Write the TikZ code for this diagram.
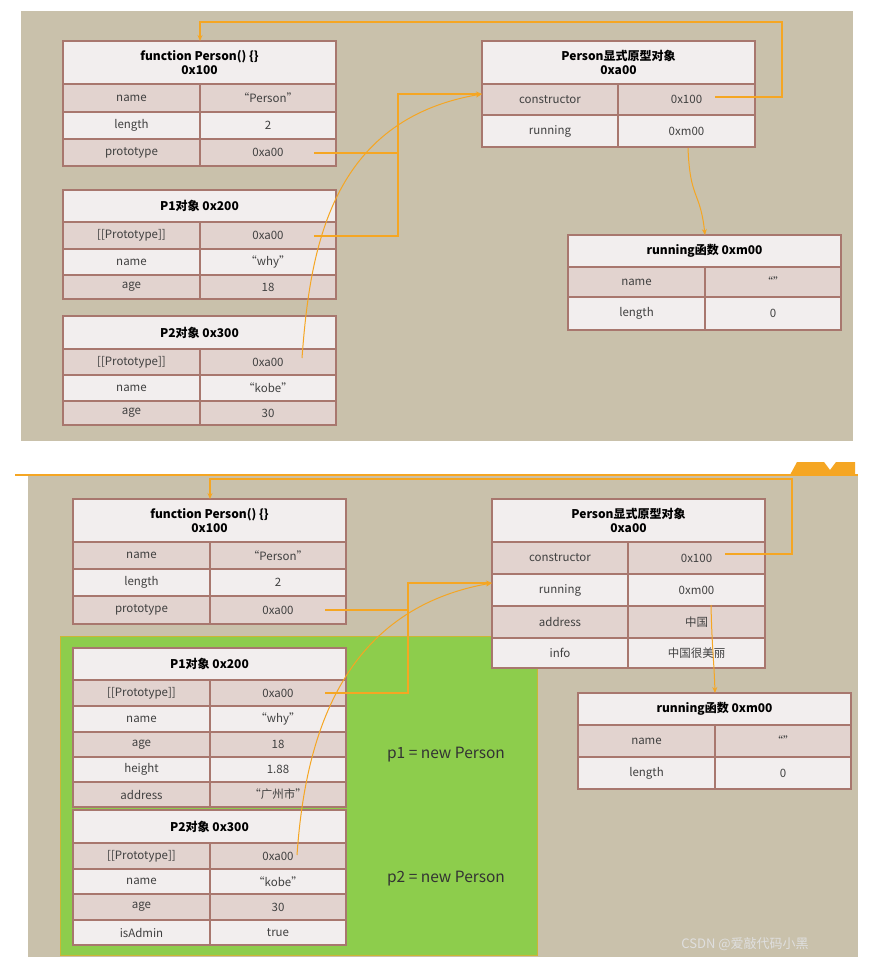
\documentclass[tikz,border=0pt]{standalone}
\usepackage{fontspec}
\setmainfont{Noto Sans CJK SC}
\usetikzlibrary{arrows.meta}
\definecolor{bg}{HTML}{C9C1AB}
\definecolor{bd}{HTML}{A8776E}
\definecolor{sh}{HTML}{E2D3CF}
\definecolor{lt}{HTML}{F2EEEE}
\definecolor{og}{HTML}{F5A623}
\definecolor{gr}{HTML}{8DCD4C}
\tikzset{
 cell/.style={draw=bd,line width=1.2pt},
 ht/.style={font=\bfseries\fontsize{12}{14}\selectfont,align=center,inner sep=0},
 tx/.style={font=\fontsize{11.5}{13}\selectfont,text=black!75,inner sep=0},
 big/.style={font=\fontsize{15.5}{18}\selectfont,text=black!80,inner sep=0},
 ln/.style={draw=og,line width=1.7pt},
 cv/.style={draw=og,line width=1pt},
 tip/.style={-{Stealth[length=6pt,width=5pt]}}
}
\newcommand\hdr[5]{\filldraw[cell,fill=lt] (#1,#3) rectangle (#2,#4);
 \node[ht] at ({(#1+#2)/2},{(#3+#4)/2}) {#5};}
\newcommand\rw[8]{\filldraw[cell,fill=#6] (#1,#4) rectangle (#3,#5);
 \draw[cell] (#2,#4) -- (#2,#5);
 \node[tx] at ({(#1+#2)/2},{(#4+#5)/2}) {#7};
 \node[tx] at ({(#2+#3)/2},{(#4+#5)/2}) {#8};}
\begin{document}
\begin{tikzpicture}[x=1pt,y=-1pt]
\useasboundingbox (0,0) rectangle (868,963);
\fill[white] (0,0) rectangle (868,963);
% ===== top panel
\fill[bg] (21,11) rectangle (853,441);
\hdr{63}{336}{41}{84}{function Person() \{\}\\0x100}
\rw{63}{200}{336}{84}{112}{sh}{name}{“Person”}
\rw{63}{200}{336}{112}{139}{lt}{length}{2}
\rw{63}{200}{336}{139}{166}{sh}{prototype}{0xa00}
\hdr{482}{755}{41}{84}{Person显式原型对象\\0xa00}
\rw{482}{618}{755}{84}{115}{sh}{constructor}{0x100}
\rw{482}{618}{755}{115}{147}{lt}{running}{0xm00}
\hdr{63}{336}{190}{222}{P1对象 0x200}
\rw{63}{200}{336}{222}{249}{sh}{[[Prototype]]}{0xa00}
\rw{63}{200}{336}{249}{275}{lt}{name}{“why”}
\rw{63}{200}{336}{275}{299}{sh}{age}{18}
\hdr{63}{336}{316}{349}{P2对象 0x300}
\rw{63}{200}{336}{349}{375}{sh}{[[Prototype]]}{0xa00}
\rw{63}{200}{336}{375}{401}{lt}{name}{“kobe”}
\rw{63}{200}{336}{401}{425}{sh}{age}{30}
\hdr{568}{841}{235}{267}{running函数 0xm00}
\rw{568}{705}{841}{267}{297}{sh}{name}{“”}
\rw{568}{705}{841}{297}{330}{lt}{length}{0}
\coordinate (ac) at (715,97); \coordinate (at1) at (200,41);
\coordinate (ap) at (314,153); \coordinate (ap1) at (314,236);
\coordinate (ap2) at (302,358); \coordinate (apo) at (482,94);
\coordinate (ar) at (688,148); \coordinate (arf) at (705,235);
\draw[ln,tip] (ac) -- (782,97) -- (782,22) -- (200,22) -- (at1);
\draw[ln] (ap) -- (398,153);
\draw[ln,tip] (ap1) -- (398,236) -- (398,94) -- (apo);
\draw[cv,tip] (ap2) .. controls (310,250) and (330,120) .. (apo);
\draw[cv,tip] (ar) .. controls (690,200) and (700,190) .. (arf);
% ===== bottom panel
\fill[bg] (28,475) rectangle (858,957);
\draw[og,line width=1.7pt] (15,475) -- (858,475);
\fill[og] (790,475) -- (797,462) -- (824,462) -- (830,470) -- (836,462) -- (855,462) -- (855,475) -- cycle;
\fill[gr] (60,636) rectangle (537,955);
\draw[og!60!gr,line width=1pt] (60,636) rectangle (537,955);
\hdr{73}{346}{499}{542}{function Person() \{\}\\0x100}
\rw{73}{210}{346}{542}{569}{sh}{name}{“Person”}
\rw{73}{210}{346}{569}{596}{lt}{length}{2}
\rw{73}{210}{346}{596}{624}{sh}{prototype}{0xa00}
\hdr{492}{765}{499}{542}{Person显式原型对象\\0xa00}
\rw{492}{628}{765}{542}{574}{sh}{constructor}{0x100}
\rw{492}{628}{765}{574}{606}{lt}{running}{0xm00}
\rw{492}{628}{765}{606}{638}{sh}{address}{中国}
\rw{492}{628}{765}{638}{668}{lt}{info}{中国很美丽}
\hdr{73}{346}{648}{680}{P1对象 0x200}
\rw{73}{210}{346}{680}{706}{sh}{[[Prototype]]}{0xa00}
\rw{73}{210}{346}{706}{732}{lt}{name}{“why”}
\rw{73}{210}{346}{732}{757}{sh}{age}{18}
\rw{73}{210}{346}{757}{782}{lt}{height}{1.88}
\rw{73}{210}{346}{782}{807}{sh}{address}{“广州市”}
\hdr{73}{346}{810}{843}{P2对象 0x300}
\rw{73}{210}{346}{843}{869}{sh}{[[Prototype]]}{0xa00}
\rw{73}{210}{346}{869}{894}{lt}{name}{“kobe”}
\rw{73}{210}{346}{894}{920}{sh}{age}{30}
\rw{73}{210}{346}{920}{945}{lt}{isAdmin}{true}
\hdr{578}{851}{693}{725}{running函数 0xm00}
\rw{578}{715}{851}{725}{757}{sh}{name}{“”}
\rw{578}{715}{851}{757}{789}{lt}{length}{0}
\node[big] (t1) at (446,755) {p1 = new Person};
\node[big] (t2) at (446,879) {p2 = new Person};
\coordinate (bc) at (725,554); \coordinate (bt1) at (210,499);
\coordinate (bp) at (325,610); \coordinate (bp1) at (325,693);
\coordinate (bp2) at (297,855); \coordinate (bpo) at (492,583);
\coordinate (br) at (711,605); \coordinate (brf) at (715,693);
\draw[ln,tip] (bc) -- (792,554) -- (792,479) -- (210,479) -- (bt1);
\draw[ln] (bp) -- (408,610);
\draw[ln,tip] (bp1) -- (408,693) -- (408,583) -- (bpo);
\draw[cv,tip] (bp2) .. controls (305,740) and (340,610) .. (bpo);
\draw[cv,tip] (br) .. controls (712,650) and (714,660) .. (brf);
\node[font=\fontsize{13}{15}\selectfont,text=white!75!gray] (wm) at (745,944) {CSDN @爱敲代码小黑};
\end{tikzpicture}
\end{document}
